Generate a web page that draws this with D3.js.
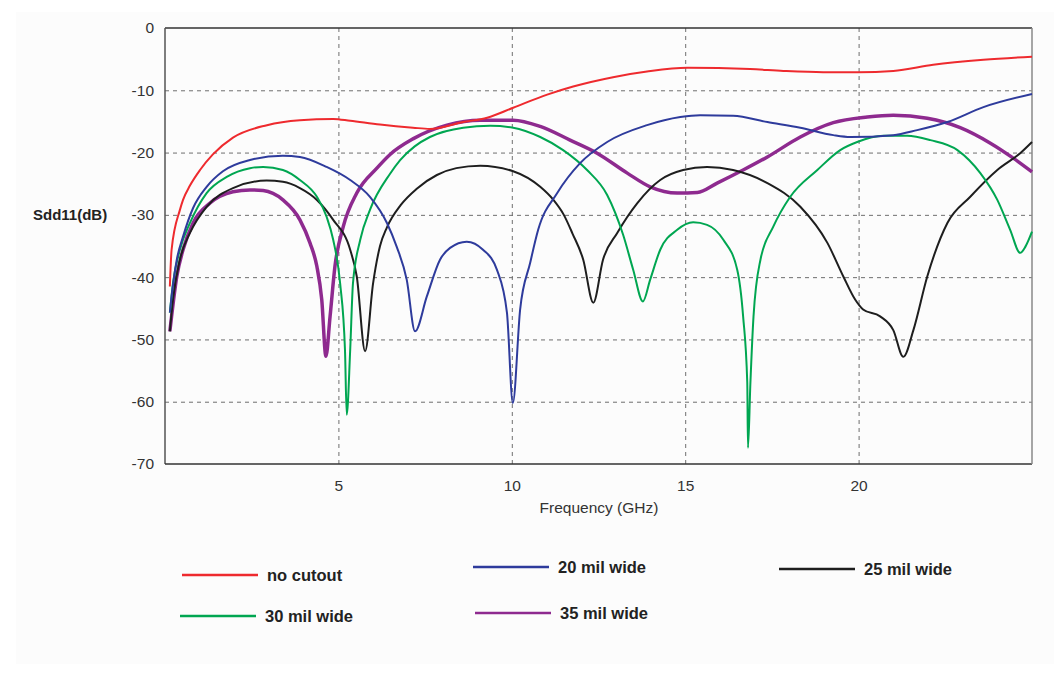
<!DOCTYPE html>
<html>
<head>
<meta charset="utf-8">
<script src="https://cdn.jsdelivr.net/npm/d3@7"></script>
<style>
  body { margin: 0; background: #fff; }
  svg { display: block; font-family: "Liberation Sans", Arial, sans-serif; }
</style>
</head>
<body>
<svg id="chart" width="1059" height="677"></svg>
<script>
// values: [GHz, dB]
var noCutout = [[0.14,-41.5],[0.19,-35.6],[0.43,-29.2],[0.52,-27.6],[0.72,-25.3],[1.01,-22.8],[1.38,-20.3],
  [1.96,-17.6],[2.94,-15.6],[3.89,-14.8],[4.85,-14.6],[5.34,-14.9],[6.2,-15.5],[7.15,-16.0],[7.64,-16.2],
  [8.6,-15.1],[9.29,-14.4],[10.04,-12.8],[11.02,-10.7],[11.77,-9.4],[12.92,-7.9],[13.9,-7.0],[15.06,-6.4],
  [16.87,-6.6],[17.83,-6.9],[18.98,-7.1],[19.99,-7.1],[21.0,-6.9],[22.15,-5.9],[23.6,-5.1],[25.0,-4.6]];

var mil20 = [[0.14,-45.7],[0.19,-43.1],[0.34,-37.2],[0.52,-33.5],[0.81,-28.9],[1.2,-25.5],[1.67,-23.0],
  [2.45,-21.2],[3.4,-20.5],[3.89,-20.7],[4.66,-22.3],[5.34,-24.4],[5.91,-27.1],[6.4,-31.3],[6.68,-35.1],
  [6.97,-40.4],[7.21,-48.7],[7.55,-43.1],[7.93,-37.2],[8.22,-35.3],[8.7,-34.3],[9.17,-35.6],[9.57,-38.8],
  [9.86,-45.7],[10.03,-60.2],[10.24,-45.2],[10.53,-37.7],[10.76,-32.4],[11.31,-26.5],[11.97,-21.7],
  [12.75,-18.3],[13.9,-15.6],[14.86,-14.3],[15.43,-14.0],[16.38,-14.1],[17.37,-15.1],[18.32,-16.0],
  [19.27,-17.2],[19.76,-17.5],[21.0,-17.2],[21.69,-16.4],[22.56,-15.1],[23.6,-12.7],[25.0,-10.6]];

var mil25 = [[0.14,-48.7],[0.23,-43.6],[0.43,-37.2],[0.72,-32.9],[1.2,-28.7],[1.96,-25.7],[2.93,-24.5],
  [3.4,-24.7],[3.89,-25.7],[4.38,-27.6],[4.85,-30.8],[5.34,-35.6],[5.53,-39.9],[5.77,-51.9],[6.0,-41.0],
  [6.2,-35.0],[6.4,-32.0],[6.8,-28.4],[7.26,-25.8],[7.84,-23.6],[8.4,-22.5],[9.09,-22.1],[10.04,-23.0],
  [10.82,-25.5],[11.2,-27.6],[11.5,-30.0],[11.75,-33.0],[12.06,-37.2],[12.35,-44.1],[12.63,-37.2],
  [13.04,-32.9],[13.62,-28.1],[14.28,-24.4],[14.94,-22.8],[15.63,-22.3],[16.38,-22.8],[17.37,-24.9],
  [18.32,-28.7],[19.1,-34.5],[19.56,-39.9],[19.9,-43.6],[20.13,-45.2],[20.62,-46.3],[21.0,-48.5],
  [21.29,-52.8],[21.58,-48.5],[21.98,-39.9],[22.56,-31.3],[23.22,-27.1],[24.0,-22.8],[24.66,-20.1],[25.0,-18.3]];

var mil30 = [[0.14,-45.7],[0.23,-41.0],[0.43,-35.6],[0.72,-31.3],[1.2,-26.5],[1.78,-23.9],[2.45,-22.5],
  [2.83,-22.3],[3.4,-22.8],[3.89,-24.4],[4.38,-27.1],[4.66,-30.3],[4.85,-34.0],[5.05,-41.0],[5.19,-51.7],
  [5.24,-62.1],[5.34,-51.7],[5.42,-41.0],[5.63,-34.0],[5.91,-29.2],[6.49,-23.4],[6.78,-21.2],[7.2,-19.0],
  [7.64,-17.5],[8.6,-16.0],[9.38,-15.7],[10.04,-16.0],[10.82,-17.5],[11.48,-19.6],[12.17,-22.8],[12.75,-26.8],
  [13.21,-33.2],[13.5,-38.8],[13.78,-43.9],[13.99,-40.4],[14.28,-35.6],[14.77,-32.4],[15.23,-31.2],
  [15.63,-31.6],[16.1,-34.0],[16.5,-38.8],[16.67,-46.3],[16.79,-57.0],[16.81,-67.4],[16.88,-57.0],
  [16.97,-46.3],[17.17,-37.2],[17.54,-31.9],[18.03,-27.1],[18.81,-22.8],[19.47,-19.6],[19.96,-18.3],
  [20.71,-17.3],[21.4,-17.3],[22.07,-18.0],[22.85,-19.6],[23.51,-23.3],[24.0,-27.6],[24.37,-32.4],
  [24.66,-36.1],[24.81,-35.1],[25.0,-32.7]];

var mil35 = [[0.14,-48.7],[0.19,-46.3],[0.34,-39.9],[0.52,-35.6],[0.81,-31.3],[1.3,-28.1],[1.96,-26.3],
  [2.45,-26.0],[2.83,-26.1],[3.4,-27.6],[3.89,-30.8],[4.18,-34.5],[4.38,-38.3],[4.52,-43.6],[4.64,-52.7],
  [4.76,-46.3],[4.9,-38.3],[5.14,-31.9],[5.53,-26.5],[6.11,-22.5],[6.49,-20.3],[7.15,-17.8],[8.13,-15.6],
  [9.09,-14.8],[10.04,-14.8],[10.82,-15.8],[11.68,-18.0],[12.46,-20.1],[13.33,-23.3],[13.99,-25.5],
  [14.77,-26.5],[15.35,-26.4],[15.92,-24.9],[16.67,-22.8],[17.37,-20.7],[18.32,-17.5],[19.27,-15.2],
  [20.25,-14.3],[21.0,-14.0],[21.98,-14.5],[22.93,-16.0],[23.8,-18.5],[24.46,-20.9],[25.0,-23.1]];

var xTicks = [5, 10, 15, 20];
var yTicks = [0, -10, -20, -30, -40, -50, -60, -70];

var series = [
  {name: "35 mil wide", data: mil35, color: "#8e2a8f", width: 3.5, lx: 475, ly: 613},
  {name: "25 mil wide", data: mil25, color: "#1e1e1e", width: 2, lx: 779, ly: 569},
  {name: "30 mil wide", data: mil30, color: "#00a651", width: 2, lx: 180, ly: 616},
  {name: "20 mil wide", data: mil20, color: "#2e3b9c", width: 2, lx: 473, ly: 567},
  {name: "no cutout", data: noCutout, color: "#ee2a2e", width: 2, lx: 182, ly: 575}
];

var svg = d3.select("#chart");

// faint panel behind everything
svg.append("rect").attr("x", 16).attr("y", 12).attr("width", 1038).attr("height", 652)
  .attr("fill", "#fcfcfc");

var x = d3.scaleLinear().domain([0, 25]).range([165, 1032]);
var y = d3.scaleLinear().domain([-70, 0]).range([464, 28]);

// grid
var grid = svg.append("g").attr("stroke", "#6e6e6e").attr("stroke-dasharray", "4,4").attr("stroke-width", 1);
grid.selectAll("line.v").data(xTicks).enter().append("line")
  .attr("x1", function(d){ return x(d) + 0.5; }).attr("x2", function(d){ return x(d) + 0.5; })
  .attr("y1", y(0)).attr("y2", y(-70));
grid.selectAll("line.h").data(yTicks.slice(1, -1)).enter().append("line")
  .attr("x1", x(0)).attr("x2", x(25))
  .attr("y1", function(d){ return y(d) + 0.5; }).attr("y2", function(d){ return y(d) + 0.5; });

// axes
var yAxis = svg.append("g").attr("transform", "translate(" + x(0) + ",0)")
  .call(d3.axisLeft(y).tickValues(yTicks).tickSize(0).tickPadding(11).tickFormat(d3.format("d")));
var xAxis = svg.append("g").attr("transform", "translate(0," + y(-70) + ")")
  .call(d3.axisBottom(x).tickValues(xTicks).tickSize(0).tickPadding(16));
[yAxis, xAxis].forEach(function(g){
  g.select(".domain").remove();
  g.selectAll("text").attr("fill", "#333").style("font-size", "15.5px")
    .style("font-family", "'Liberation Sans', Arial, sans-serif");
});
yAxis.selectAll("text").text(function(d){ return d === 0 ? "0" : "-" + Math.abs(d); });

// frame
svg.append("line").attr("x1", x(0)).attr("x2", x(25)).attr("y1", y(0)).attr("y2", y(0))
  .attr("stroke", "#333").attr("stroke-width", 1.5);
svg.append("line").attr("x1", x(0)).attr("x2", x(0)).attr("y1", y(0)).attr("y2", y(-70))
  .attr("stroke", "#555").attr("stroke-width", 1.5);
svg.append("line").attr("x1", x(0)).attr("x2", x(25)).attr("y1", y(-70)).attr("y2", y(-70))
  .attr("stroke", "#333").attr("stroke-width", 1.5);
svg.append("line").attr("x1", x(25)).attr("x2", x(25)).attr("y1", y(0)).attr("y2", y(-70))
  .attr("stroke", "#8a8a8a").attr("stroke-width", 1.5);

// curves
var line = d3.line()
  .x(function(d){ return x(d[0]); })
  .y(function(d){ return y(d[1]); })
  .curve(d3.curveMonotoneX);

svg.append("g").selectAll("path").data(series).enter().append("path")
  .attr("d", function(d){ return line(d.data); })
  .attr("fill", "none")
  .attr("stroke", function(d){ return d.color; })
  .attr("stroke-width", function(d){ return d.width; })
  .attr("stroke-linejoin", "round");

// labels
svg.append("text").attr("x", 33).attr("y", 215).attr("dy", "0.35em")
  .style("font-size", "15px").style("font-weight", "bold").attr("fill", "#222")
  .text("Sdd11(dB)");
svg.append("text").attr("x", 599).attr("y", 508).attr("dy", "0.35em").attr("text-anchor", "middle")
  .style("font-size", "15.5px").attr("fill", "#333")
  .text("Frequency (GHz)");

// legend
var leg = svg.append("g").selectAll("g").data(series).enter().append("g");
leg.append("line")
  .attr("x1", function(d){ return d.lx; }).attr("x2", function(d){ return d.lx + 76; })
  .attr("y1", function(d){ return d.ly; }).attr("y2", function(d){ return d.ly; })
  .attr("stroke", function(d){ return d.color; }).attr("stroke-width", 2.5);
leg.append("text")
  .attr("x", function(d){ return d.lx + 85; })
  .attr("y", function(d){ return d.ly; })
  .attr("dy", "0.35em")
  .style("font-size", "16.5px").style("font-weight", "bold").attr("fill", "#222")
  .text(function(d){ return d.name; });
</script>
</body>
</html>
